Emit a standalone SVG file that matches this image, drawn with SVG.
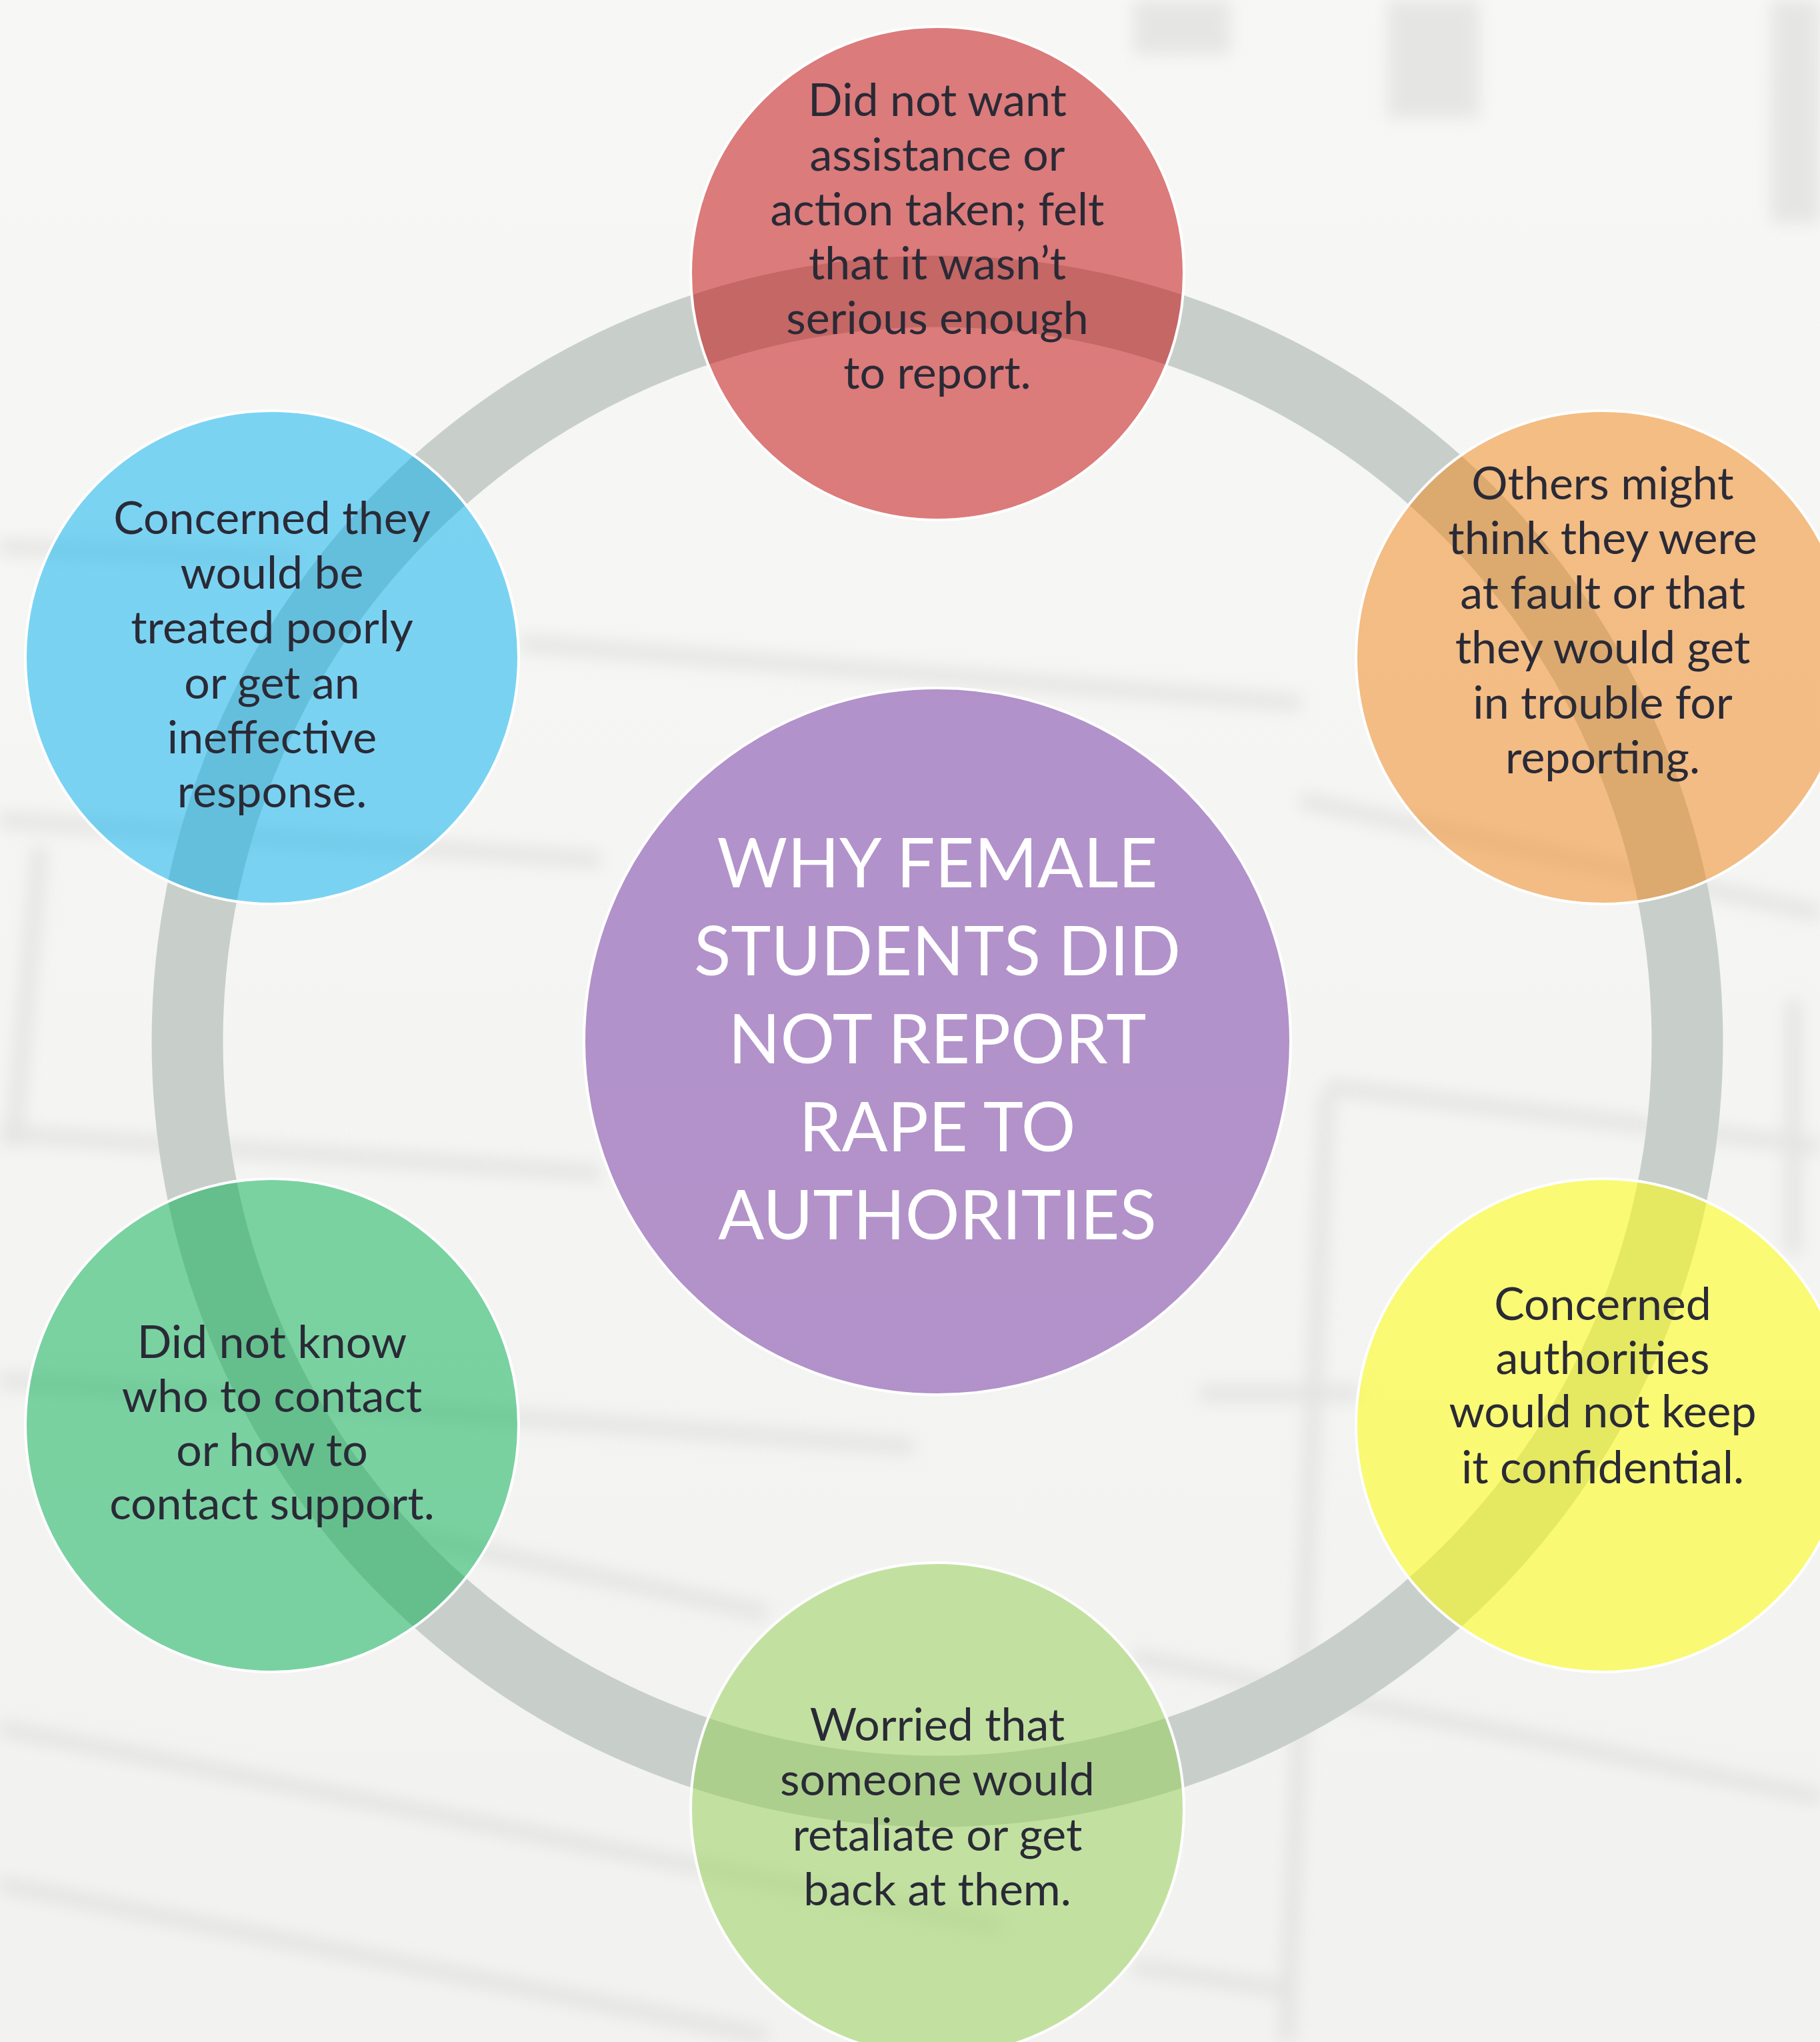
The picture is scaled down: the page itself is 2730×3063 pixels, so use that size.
<svg xmlns="http://www.w3.org/2000/svg" width="2730" height="3063" viewBox="0 0 2730 3063">
<style>
.bgline{fill:none;stroke:#d8d8d7;stroke-width:24;stroke-linecap:butt}
.bgblock{fill:#d8d8d7}
.node{stroke:#ffffff;stroke-width:4}
.t{font-family:Lato,"Open Sans","Liberation Sans",sans-serif;font-size:68px;fill:#2a2a36;text-anchor:middle}
.title{font-family:Lato,"Open Sans","Liberation Sans",sans-serif;font-size:102px;fill:#ffffff;text-anchor:middle}
</style>
<defs>
<linearGradient id="bg" x1="0" y1="0" x2="0" y2="1">
<stop offset="0" stop-color="#f7f7f6"/>
<stop offset="1" stop-color="#f2f2f1"/>
</linearGradient>
<filter id="blur" x="-10%" y="-10%" width="120%" height="120%">
<feGaussianBlur stdDeviation="12"/>
</filter>
</defs>
<rect x="0" y="0" width="2730" height="3063" fill="url(#bg)"/>
<g id="background-texture" filter="url(#blur)" opacity="0.55">
<rect class="bgblock" x="1700" y="0" width="145" height="82"/>
<rect class="bgblock" x="2081" y="0" width="138" height="177"/>
<rect class="bgblock" x="2656" y="0" width="74" height="335"/>
<path class="bgline" d="M0,820 L450,840"/>
<path class="bgline" d="M780,965 L1950,1055"/>
<path class="bgline" d="M0,1230 L900,1290"/>
<path class="bgline" d="M1950,1200 L2730,1370"/>
<path class="bgline" d="M60,1270 L20,1720"/>
<path class="bgline" d="M0,1700 L900,1760"/>
<path class="bgline" d="M1990,1640 L1930,3063"/>
<path class="bgline" d="M1990,1630 L2730,1720"/>
<path class="bgline" d="M2690,1500 L2690,1880"/>
<path class="bgline" d="M1800,2090 L2040,2090"/>
<path class="bgline" d="M0,2070 L1370,2170"/>
<path class="bgline" d="M600,2300 L1150,2420"/>
<path class="bgline" d="M1700,2485 L2730,2696"/>
<path class="bgline" d="M0,2592 L1500,2890"/>
<path class="bgline" d="M0,2826 L1150,3054"/>
<path class="bgline" d="M1700,2950 L1930,2985"/>
</g>
<g id="connectors">
<circle cx="1406" cy="1562" r="1125" fill="none" stroke="#c8cfca" stroke-width="107"/>
</g>
<g id="node-center">
<circle class="node" cx="1406" cy="1562" r="530" fill="#7030a0" fill-opacity="0.5"/>
<text class="title" x="1406" y="1331">WHY FEMALE</text>
<text class="title" x="1406" y="1463">STUDENTS DID</text>
<text class="title" x="1406" y="1595">NOT REPORT</text>
<text class="title" x="1406" y="1727">RAPE TO</text>
<text class="title" x="1406" y="1859">AUTHORITIES</text>
</g>
<g id="node-top">
<circle class="node" cx="1406" cy="410" r="370" fill="#c00000" fill-opacity="0.5"/>
<text class="t" x="1406" y="174">Did not want</text>
<text class="t" x="1406" y="256">assistance or</text>
<text class="t" x="1406" y="338">action taken; felt</text>
<text class="t" x="1406" y="419">that it wasn’t</text>
<text class="t" x="1406" y="501">serious enough</text>
<text class="t" x="1406" y="583">to report.</text>
</g>
<g id="node-top-right">
<circle class="node" cx="2404" cy="986" r="370" fill="#ef8414" fill-opacity="0.5"/>
<text class="t" x="2404" y="749">Others might</text>
<text class="t" x="2404" y="831">think they were</text>
<text class="t" x="2404" y="913">at fault or that</text>
<text class="t" x="2404" y="995">they would get</text>
<text class="t" x="2404" y="1078">in trouble for</text>
<text class="t" x="2404" y="1160">reporting.</text>
</g>
<g id="node-bottom-right">
<circle class="node" cx="2404" cy="2138" r="370" fill="#ffff00" fill-opacity="0.52"/>
<text class="t" x="2404" y="1980">Concerned</text>
<text class="t" x="2404" y="2061">authorities</text>
<text class="t" x="2404" y="2141">would not keep</text>
<text class="t" x="2404" y="2225">it confidential.</text>
</g>
<g id="node-bottom">
<circle class="node" cx="1406" cy="2714" r="370" fill="#92d050" fill-opacity="0.5"/>
<text class="t" x="1406" y="2611">Worried that</text>
<text class="t" x="1406" y="2693">someone would</text>
<text class="t" x="1406" y="2776">retaliate or get</text>
<text class="t" x="1406" y="2858">back at them.</text>
</g>
<g id="node-bottom-left">
<circle class="node" cx="408" cy="2138" r="370" fill="#00b050" fill-opacity="0.5"/>
<text class="t" x="408" y="2037">Did not know</text>
<text class="t" x="408" y="2118">who to contact</text>
<text class="t" x="408" y="2199">or how to</text>
<text class="t" x="408" y="2279">contact support.</text>
</g>
<g id="node-top-left">
<circle class="node" cx="408" cy="986" r="370" fill="#00b0f0" fill-opacity="0.5"/>
<text class="t" x="408" y="801">Concerned they</text>
<text class="t" x="408" y="883">would be</text>
<text class="t" x="408" y="965">treated poorly</text>
<text class="t" x="408" y="1048">or get an</text>
<text class="t" x="408" y="1130">ineffective</text>
<text class="t" x="408" y="1211">response.</text>
</g>
</svg>
